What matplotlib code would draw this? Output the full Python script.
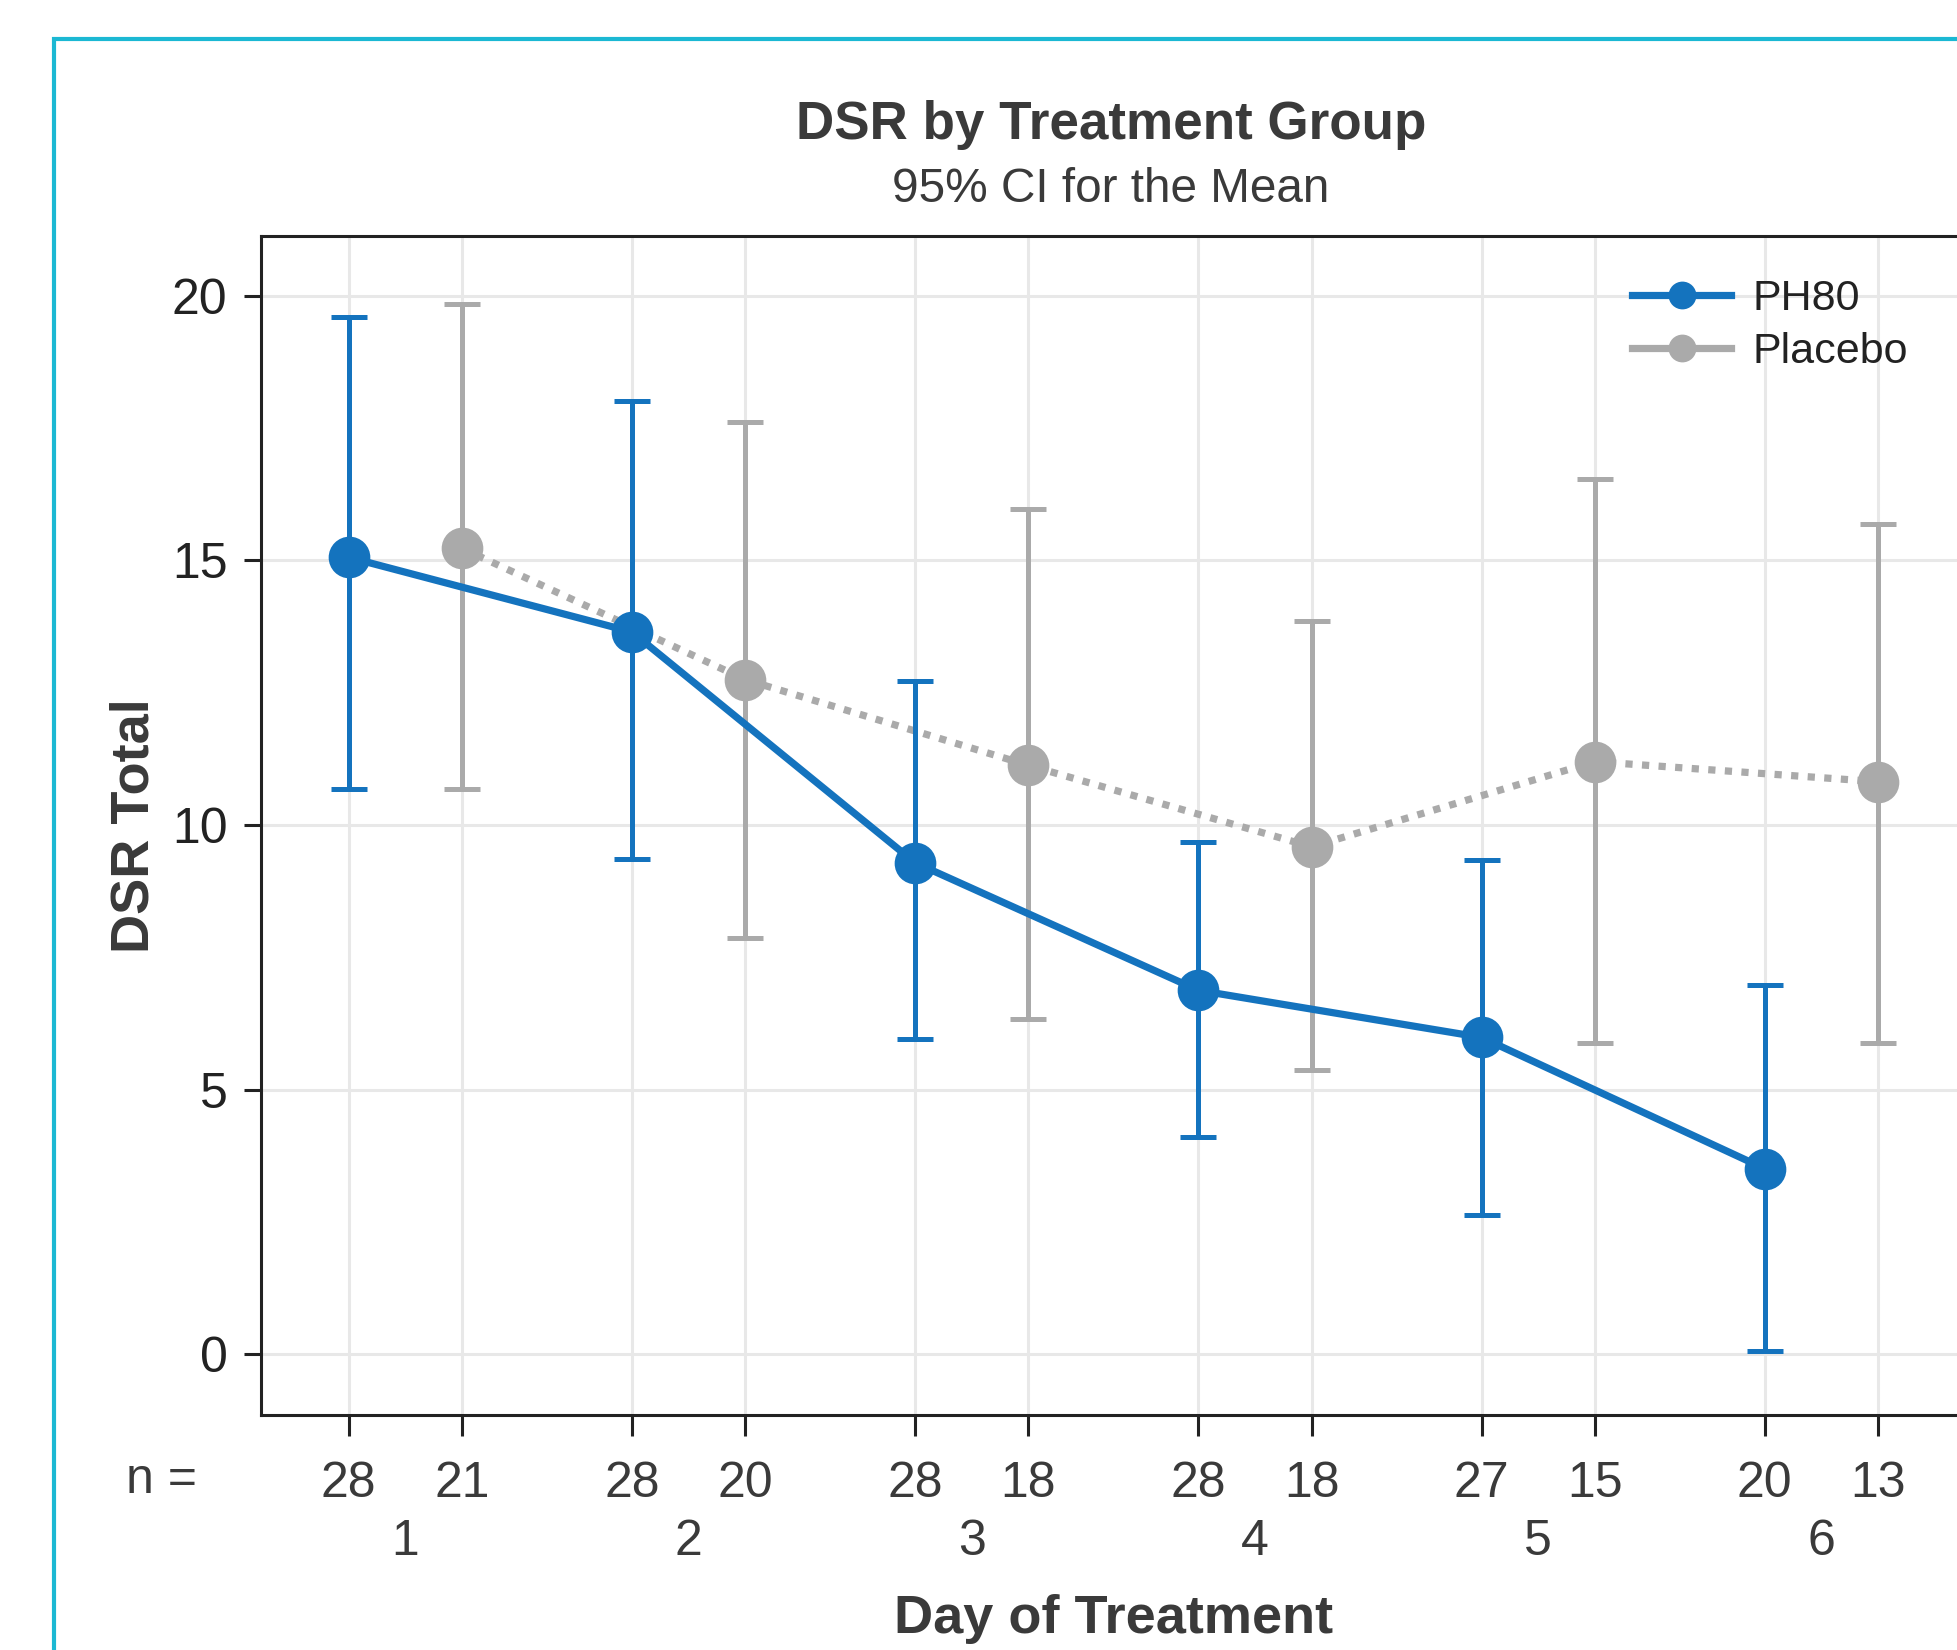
import matplotlib.pyplot as plt
from matplotlib.patches import Rectangle
import numpy as np

plt.rcParams['font.family'] = ['Liberation Sans', 'DejaVu Sans']

# data
days = np.array([1, 2, 3, 4, 5, 6])
ph80_mean = np.array([15.06, 13.65, 9.29, 6.88, 5.99, 3.51])
ph80_upper = np.array([19.59, 18.01, 12.73, 9.69, 9.34, 6.98])
ph80_lower = np.array([10.68, 9.36, 5.96, 4.10, 2.64, 0.07])
ph80_n = ['28', '28', '28', '28', '27', '20']

plac_mean = np.array([15.23, 12.75, 11.13, 9.59, 11.20, 10.82])
plac_upper = np.array([19.85, 17.61, 15.98, 13.86, 16.53, 15.68])
plac_lower = np.array([10.68, 7.87, 6.34, 5.37, 5.89, 5.89])
plac_n = ['21', '20', '18', '18', '15', '13']

blue = '#1473BE'
grey = '#AAAAAA'
dark = '#3A3A3A'

fig = plt.figure(figsize=(9.785, 8.25), dpi=200)
ax = fig.add_axes([0.1333, 0.1422, 0.8712, 0.7148])

# cyan frame around the panel (cropped on right/bottom)
fig.patches.append(Rectangle((0.0274, -0.1), 1.2, 0.9765 + 0.1, transform=fig.transFigure,
                             fill=False, edgecolor='#1BB8D3', linewidth=1.5))

off = 0.2
x_ph = days - off
x_pl = days + off

# placebo
ax.errorbar(x_pl, plac_mean, yerr=[plac_mean - plac_lower, plac_upper - plac_mean],
            fmt='none', ecolor=grey, elinewidth=1.8, capsize=6.5, capthick=1.8, zorder=3)
ax.plot(x_pl, plac_mean, color=grey, linestyle=(0, (1, 1.3)), linewidth=2.6, zorder=3)
ax.plot(x_pl, plac_mean, 'o', color=grey, markersize=14, zorder=4)

# PH80
ax.errorbar(x_ph, ph80_mean, yerr=[ph80_mean - ph80_lower, ph80_upper - ph80_mean],
            fmt='none', ecolor=blue, elinewidth=1.8, capsize=6.5, capthick=1.8, zorder=5)
ax.plot(x_ph, ph80_mean, color=blue, linewidth=2.6, zorder=5)
ax.plot(x_ph, ph80_mean, 'o', color=blue, markersize=14, zorder=6)

# legend handles
h1, = ax.plot([], [], '-o', color=blue, linewidth=2.6, markersize=9)
h2, = ax.plot([], [], '-o', color=grey, linewidth=2.6, markersize=9)
fig.legend([h1, h2], ['PH80', 'Placebo'], loc='upper left', bbox_to_anchor=(0.834, 0.831),
           frameon=False, fontsize=15.5, handlelength=2.3, borderpad=0, borderaxespad=0,
           labelspacing=0.3, handletextpad=0.5, labelcolor='#222222')

ax.set_xlim(0.49, 6.51)
ax.set_ylim(-1.15, 21.13)
ax.set_yticks([0, 5, 10, 15, 20])

xt = np.sort(np.concatenate([x_ph, x_pl]))
labels = []
for a, b in zip(ph80_n, plac_n):
    labels += [a, b]
ax.set_xticks(xt)
ax.set_xticklabels(labels)

ax.grid(True, color='#E8E8E8', linewidth=1.1, zorder=0)
ax.set_axisbelow(True)
ax.tick_params(axis='y', length=6, width=1.1, colors='#222222', labelsize=18, pad=6)
ax.tick_params(axis='x', length=7.5, width=1.1, colors='#222222', labelsize=18, pad=9,
               labelcolor=dark)
for s in ['left', 'bottom', 'top', 'right']:
    ax.spines[s].set_linewidth(1.1)
    ax.spines[s].set_color('#222222')

# day labels under n-values
for d in days:
    ax.text(d, -0.107, str(d), transform=ax.get_xaxis_transform(), ha='center', va='center',
            fontsize=18, color=dark)
ax.text(-0.058, -0.0545, 'n =', transform=ax.transAxes, ha='center', va='center',
        fontsize=18, color=dark)

ax.text(0.5, -0.1725, 'Day of Treatment', transform=ax.transAxes, ha='center', va='center',
        fontsize=19.5, fontweight='bold', color=dark)
ax.text(-0.074, 0.5, 'DSR Total', transform=ax.transAxes, ha='center', va='center',
        rotation=90, fontsize=19.5, fontweight='bold', color=dark)

fig.text(0.5677, 0.9244, 'DSR by Treatment Group', ha='center', va='center',
         fontsize=19.1, fontweight='bold', color=dark)
fig.text(0.5677, 0.885, '95% CI for the Mean', ha='center', va='center',
         fontsize=17.2, color=dark)

fig.savefig('out.png', dpi=200)
